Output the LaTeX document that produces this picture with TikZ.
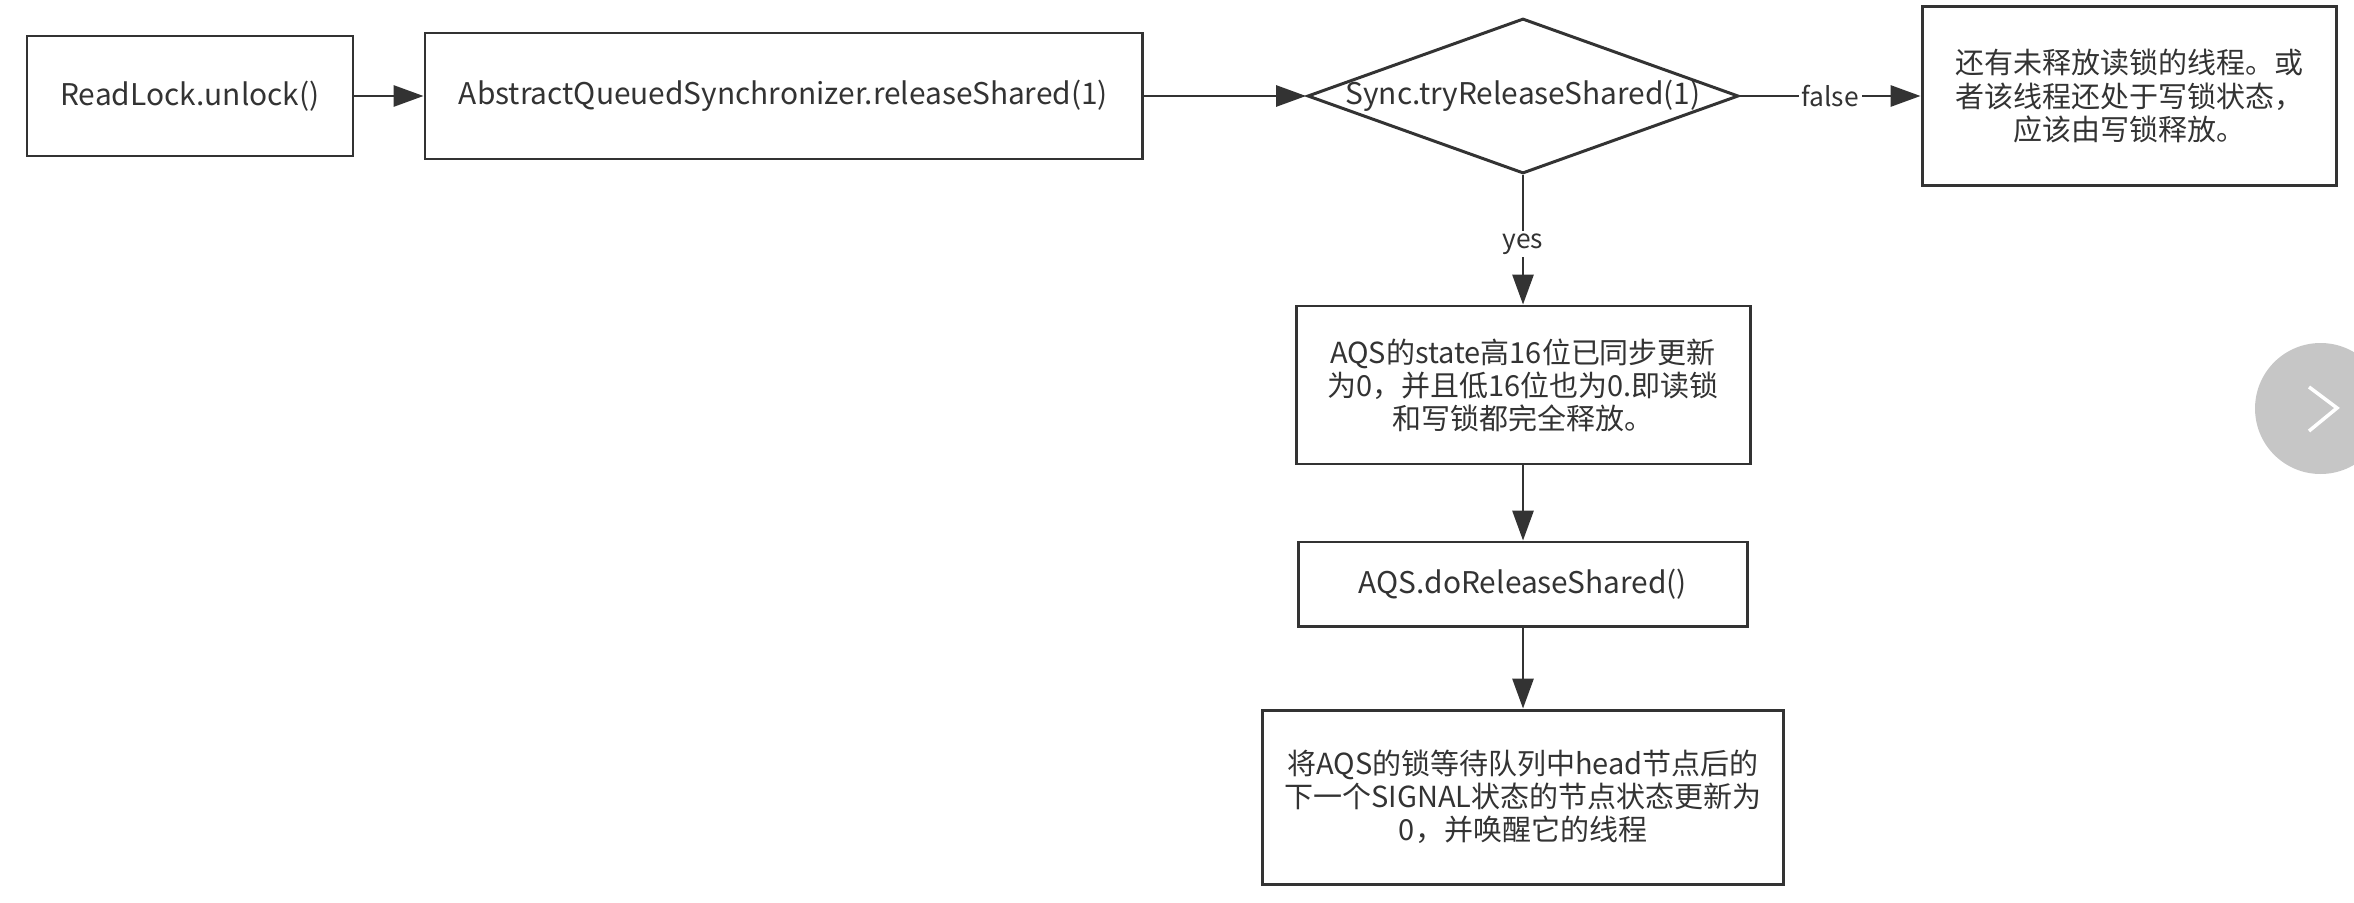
\documentclass[tikz,border=0pt]{standalone}
\usepackage{fontspec}
\setmainfont{Noto Sans CJK SC}
\usetikzlibrary{shapes.geometric, arrows.meta}
\definecolor{linegray}{HTML}{333333}
\definecolor{btngray}{HTML}{C6C6C6}
\tikzstyle{arrow} = [line width=1.4pt,->,>={Triangle[length=17pt,width=12pt]},draw=linegray]
\tikzstyle{process} = [rectangle, text centered, draw=linegray, line width=1.7pt, text=linegray, inner sep=0pt, font=\fontsize{17}{22}\selectfont]
\tikzstyle{note} = [process, align=center, font=\fontsize{16.5}{18.8}\selectfont]
\tikzstyle{decision} = [diamond, aspect=2.77, minimum width=8.62cm, minimum height=3.10cm, text centered, draw=linegray, line width=1.7pt, text=linegray, inner sep=-4pt, font=\fontsize{17}{22}\selectfont]
\tikzstyle{tag} = [fill=white, text=linegray, inner sep=1.5pt, font=\fontsize{15}{18}\selectfont]

\begin{document}
\begin{tikzpicture}
\useasboundingbox (-3.80,1.92) rectangle (43.28,-16.12);
\node (unlock) [process, minimum width=6.52cm, minimum height=2.40cm] {ReadLock.unlock()};
\node (release) [process, node distance=11.87cm, right of=unlock, minimum width=14.34cm, minimum height=2.52cm] {AbstractQueuedSynchronizer.releaseShared(1)};
\node (tryrel) [decision, node distance=14.79cm, right of=release] {Sync.tryReleaseShared(1)};
\node (pending) [note, node distance=12.12cm, right of=tryrel, minimum width=8.28cm, minimum height=3.58cm] {还有未释放读锁的线程。或\\者该线程还处于写锁状态，\\应该由写锁释放。};
\node (state) [note, node distance=5.78cm, below of=tryrel, minimum width=9.08cm, minimum height=3.16cm] {AQS的state高16位已同步更新\\为0，并且低16位也为0.即读锁\\和写锁都完全释放。};
\node (dorel) [process, node distance=3.98cm, below of=state, minimum width=8.98cm, minimum height=1.68cm] {AQS.doReleaseShared()};
\node (wakeup) [note, node distance=4.26cm, below of=dorel, minimum width=10.42cm, minimum height=3.48cm] {将AQS的锁等待队列中head节点后的\\下一个SIGNAL状态的节点状态更新为\\0，并唤醒它的线程};
\draw [arrow] (unlock) -- (release);
\draw [arrow] (release) -- (tryrel);
\draw [arrow] (tryrel) -- node[tag] {false} (pending);
\draw [arrow] (tryrel) -- node[tag, yshift=-2.5pt] {yes} (state);
\draw [arrow] (state) -- (dorel);
\draw [arrow] (dorel) -- (wakeup);
% slide button
\fill [btngray] (42.61,-6.25) circle (1.31);
\draw [white, line width=2pt] (42.38,-5.82) -- (42.94,-6.24) -- (42.38,-6.70);
\end{tikzpicture}
\end{document}
